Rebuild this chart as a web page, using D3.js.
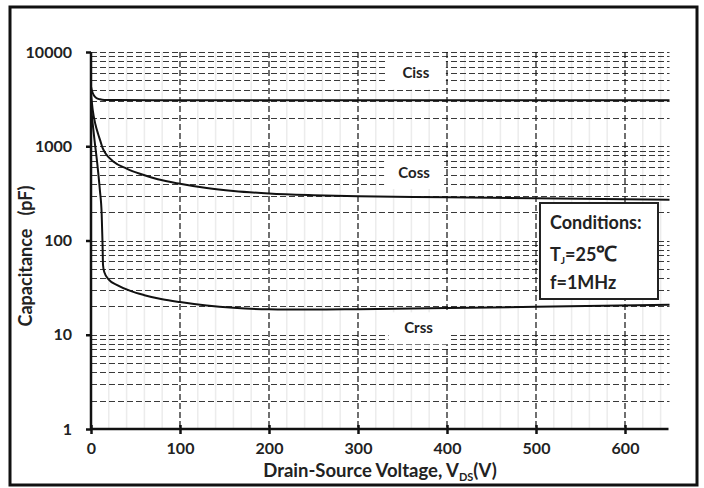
<!DOCTYPE html>
<html>
<head>
<meta charset="utf-8">
<script src="https://cdn.jsdelivr.net/npm/d3@7"></script>
<style>
  body { margin: 0; background: #fff; }
  svg text { font-family: Lato, "Open Sans", sans-serif; font-weight: bold; fill: #222; }
</style>
</head>
<body>
<svg width="704" height="488"></svg>
<script>
// capacitance curves (V, pF)
var ciss = [[0,4300],[1,3900],[3,3500],[6,3250],[10,3150],[15,3100],[30,3090],[100,3080],[300,3080],[650,3080]];
var coss = [[0,3600],[2,2400],[5,1700],[8,1350],[11,1100],[13,960],[16,850],[25,690],[40,580],[55,510],[75,447],[100,400],[130,360],[160,335],[200,315],[250,302],[300,294],[400,287],[500,280],[650,270]];
var crss = [[0,2600],[2,1700],[4,1150],[7,660],[10,340],[12,190],[13,90],[13.5,55],[15,46],[20,38.5],[30,33.5],[45,29],[60,26.3],[80,23.8],[100,22.2],[130,20.4],[160,19.3],[200,18.6],[250,18.5],[300,18.7],[400,19.2],[500,19.8],[650,20.8]];

var xTicks = [0, 100, 200, 300, 400, 500, 600];
var yTicks = [1, 10, 100, 1000, 10000];
var curveLabels = [
  {text: "Ciss", v: 365, c: 6000},
  {text: "Coss", v: 363, c: 520},
  {text: "Crss", v: 368, c: 11.7}
];
var conditions = ["Conditions:", "T_J=25℃", "f=1MHz"];

var svg = d3.select("svg");
var pLeft = 91, pRight = 669.5, pTop = 52, pBottom = 429;

var x = d3.scaleLinear().domain([0, 650]).range([pLeft, pRight]);
var y = d3.scaleLog().domain([1, 10000]).range([pBottom, pTop]);

// outer frame
svg.append("rect")
  .attr("x", 10).attr("y", 7).attr("width", 687).attr("height", 478)
  .attr("fill", "none").attr("stroke", "#111").attr("stroke-width", 3);

// faint minor verticals every 20 V
var minorX = d3.range(20, 651, 20).filter(function(d) { return d % 100 != 0; });
svg.append("g").selectAll("line").data(minorX).enter().append("line")
  .attr("x1", function(d) { return x(d); }).attr("x2", function(d) { return x(d); })
  .attr("y1", pTop).attr("y2", pBottom)
  .attr("stroke", "#ececec").attr("stroke-width", 1.5);

// horizontal dashed grid 2..10 x 10^k
var hGrid = [];
[1, 10, 100, 1000].forEach(function(k) {
  for (var i = 2; i <= 10; i++) hGrid.push(i * k);
});
svg.append("g").selectAll("line").data(hGrid).enter().append("line")
  .attr("x1", pLeft).attr("x2", pRight)
  .attr("y1", function(d) { return Math.round(y(d)) + 0.5; })
  .attr("y2", function(d) { return Math.round(y(d)) + 0.5; })
  .attr("stroke", "#3a3a3a").attr("stroke-width", 1.2)
  .attr("stroke-dasharray", "6,3");

// vertical dashed grid at the major ticks
svg.append("g").selectAll("line").data(xTicks.slice(1)).enter().append("line")
  .attr("x1", function(d) { return x(d); }).attr("x2", function(d) { return x(d); })
  .attr("y1", pTop).attr("y2", pBottom)
  .attr("stroke", "#111").attr("stroke-width", 1.2)
  .attr("stroke-dasharray", "6,3");

// curves
var line = d3.line()
  .x(function(d) { return x(d[0]); })
  .y(function(d) { return y(d[1]); })
  .curve(d3.curveMonotoneX);

[ciss, coss, crss].forEach(function(s) {
  svg.append("path").datum(s)
    .attr("d", line)
    .attr("fill", "none").attr("stroke", "#111").attr("stroke-width", 2);
});

// curve labels on white boxes
curveLabels.forEach(function(l) {
  var cx = x(l.v), cy = y(l.c);
  svg.append("rect")
    .attr("x", cx - 30).attr("y", cy - 16).attr("width", 60).attr("height", 32)
    .attr("fill", "#fff");
  svg.append("text")
    .attr("x", cx).attr("y", cy + 5)
    .attr("text-anchor", "middle")
    .style("font-size", "15px")
    .text(l.text);
});

// axes
var yAxis = d3.axisLeft(y).tickValues(yTicks).tickFormat(d3.format("d")).tickSize(5).tickPadding(14);
var gy = svg.append("g").attr("transform", "translate(" + pLeft + ",0)").call(yAxis);
var xAxis = d3.axisBottom(x).tickValues(xTicks).tickSize(5).tickPadding(9);
var gx = svg.append("g").attr("transform", "translate(0," + pBottom + ")").call(xAxis);
gx.selectAll(".tick").append("line").attr("y2", -4);

[gx, gy].forEach(function(g) {
  g.select(".domain").attr("stroke", "#111").attr("stroke-width", 2.5);
  g.selectAll(".tick line").attr("stroke", "#111").attr("stroke-width", 2.5);
  g.selectAll(".tick text").style("font-size", "16px").style("font-family", "Lato, sans-serif")
    .style("font-weight", "bold").attr("fill", "#222");
});
gx.select(".domain").attr("d", "M" + pLeft + ",0H" + (pRight - 1));
gy.select(".domain").attr("d", "M0," + pBottom + "V" + pTop);

// axis titles
var xt = svg.append("text")
  .attr("x", 380).attr("y", 477).attr("text-anchor", "middle")
  .style("font-size", "18.5px");
xt.append("tspan").text("Drain-Source Voltage, V");
xt.append("tspan").attr("dy", 4).style("font-size", "11px").text("DS");
xt.append("tspan").attr("dy", -4).text("(V)");

svg.append("text")
  .attr("transform", "translate(32,256) rotate(-90)")
  .attr("text-anchor", "middle")
  .style("font-size", "18px")
  .text("Capacitance\u00a0\u00a0\u00a0(pF)");

// conditions box
svg.append("rect")
  .attr("x", 540).attr("y", 203).attr("width", 118).attr("height", 96)
  .attr("fill", "#fff").attr("stroke", "#222").attr("stroke-width", 2);
svg.append("text").attr("x", 550).attr("y", 229).style("font-size", "18px").text(conditions[0]);
var tj = svg.append("text").attr("x", 550).attr("y", 261).style("font-size", "18px");
tj.append("tspan").text("T");
tj.append("tspan").attr("dy", 3).style("font-size", "10px").text("J");
tj.append("tspan").attr("dy", -3).text("=25");
tj.append("tspan").style("font-size", "21px").text("℃");
svg.append("text").attr("x", 550).attr("y", 289).style("font-size", "18px").text(conditions[2]);
</script>
</body>
</html>
